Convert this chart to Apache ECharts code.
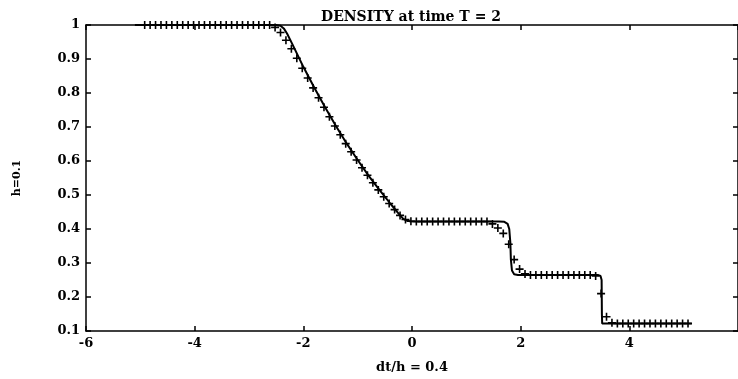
<!DOCTYPE html>
<html>
<head>
<meta charset="utf-8">
<script src="https://cdn.jsdelivr.net/npm/echarts@6/dist/echarts.min.js"></script>
<style>
html,body{margin:0;padding:0;background:#fff;}
#chart{width:738px;height:379px;}
</style>
</head>
<body>
<div id="chart"></div>
<script>
// Numerical solution (+ markers), h = 0.1
var numX = [-4.92,-4.82,-4.72,-4.62,-4.52,-4.42,-4.32,-4.22,-4.12,-4.02,
  -3.92,-3.82,-3.72,-3.62,-3.52,-3.42,-3.32,-3.22,-3.12,-3.02,
  -2.92,-2.82,-2.72,-2.62,-2.52,-2.42,-2.32,-2.22,-2.12,-2.02,
  -1.92,-1.82,-1.72,-1.62,-1.52,-1.42,-1.32,-1.22,-1.12,-1.02,
  -0.92,-0.82,-0.72,-0.62,-0.52,-0.42,-0.32,-0.22,-0.12,-0.02,
  0.08,0.18,0.28,0.38,0.48,0.58,0.68,0.78,0.88,0.98,
  1.08,1.18,1.28,1.38,1.48,1.58,1.68,1.78,1.88,1.98,
  2.08,2.18,2.28,2.38,2.48,2.58,2.68,2.78,2.88,2.98,
  3.08,3.18,3.28,3.38,3.48,3.58,3.68,3.78,3.88,3.98,
  4.08,4.18,4.28,4.38,4.48,4.58,4.68,4.78,4.88,4.98,
  5.08];
var numY = [1,1,1,1,1,1,1,1,1,1,
  1,1,1,1,1,1,1,1,1,1,
  1,1,1,1,0.993,0.978,0.955,0.93,0.902,0.873,
  0.844,0.815,0.786,0.758,0.730,0.703,0.677,0.651,0.627,0.603,
  0.580,0.558,0.536,0.515,0.495,0.475,0.457,0.440,0.428,0.423,
  0.422,0.422,0.422,0.422,0.422,0.422,0.422,0.422,0.422,0.422,
  0.422,0.422,0.422,0.422,0.415,0.403,0.387,0.355,0.31,0.282,
  0.268,0.265,0.265,0.265,0.265,0.265,0.265,0.265,0.265,0.265,
  0.265,0.265,0.265,0.262,0.21,0.142,0.124,0.122,0.122,0.122,
  0.122,0.122,0.122,0.122,0.122,0.122,0.122,0.122,0.122,0.122,
  0.122];
// Reference (exact) solution, solid line
var exactX = [-5.1,-2.5,-2.42,-2.36,-2.3,-2.2,-2.0,-1.8,-1.6,-1.4,-1.2,-1.0,-0.8,-0.6,-0.4,-0.25,-0.16,-0.1,-0.04,0.1,
  1.6,1.7,1.76,1.79,1.81,1.82,1.84,1.88,1.95,3.42,3.47,3.49,3.495,3.5,5.15];
var exactY = [1,1,0.998,0.99,0.975,0.943,0.877,0.816,0.758,0.703,0.651,0.603,0.557,0.515,0.475,0.446,0.43,0.425,0.423,0.422,
  0.422,0.421,0.415,0.40,0.36,0.31,0.278,0.267,0.265,0.265,0.262,0.25,0.15,0.122,0.122];
var titleText = 'DENSITY at time T = 2';
var xName = 'dt/h = 0.4';
var yName = 'h=0.1';
var xTicks = {min: -6, max: 6, interval: 2};
var yTicks = {min: 0.1, max: 1, interval: 0.1};

function pairs(xs, ys){ var out=[]; for(var i=0;i<xs.length;i++){ out.push([xs[i], ys[i]]); } return out; }

var FONT = 'DejaVu Serif';
var lbl = {color:'#000', fontFamily:FONT, fontWeight:'bold', fontSize:13};
function axLine(){ return {show:true, onZero:false, lineStyle:{color:'#000', width:1.5}}; }
function tick(){ return {show:true, inside:true, length:5, lineStyle:{color:'#000', width:1.5}}; }

var chart = echarts.init(document.getElementById('chart'), null, {renderer:'canvas'});
chart.setOption({
  animation:false,
  backgroundColor:'#fff',
  title:{text:titleText, left:316, top:5, textStyle:{color:'#000', fontFamily:FONT, fontWeight:'bold', fontSize:14}},
  grid:{left:86, right:-6, top:25, bottom:48, containLabel:false},
  xAxis:[{
    type:'value', min:xTicks.min, max:xTicks.max, interval:xTicks.interval, position:'bottom',
    name:xName, nameLocation:'middle', nameGap:30,
    nameTextStyle:{color:'#000', fontFamily:FONT, fontWeight:'bold', fontSize:13},
    axisLine:axLine(), axisTick:tick(),
    axisLabel:Object.assign({margin:6, showMaxLabel:false}, lbl),
    splitLine:{show:false}
  },{
    type:'value', min:xTicks.min, max:xTicks.max, interval:xTicks.interval, position:'top',
    axisLine:axLine(), axisTick:tick(), axisLabel:{show:false}, splitLine:{show:false}
  }],
  yAxis:[{
    type:'value', min:yTicks.min, max:yTicks.max, interval:yTicks.interval, position:'left',
    name:yName, nameLocation:'middle', nameGap:63,
    nameTextStyle:{color:'#000', fontFamily:FONT, fontWeight:'bold', fontSize:11},
    axisLine:axLine(), axisTick:tick(),
    axisLabel:Object.assign({margin:6}, lbl),
    splitLine:{show:false}
  },{
    type:'value', min:yTicks.min, max:yTicks.max, interval:yTicks.interval, position:'right',
    axisLine:axLine(), axisTick:tick(), axisLabel:{show:false}, splitLine:{show:false}
  }],
  series:[{
    type:'line', xAxisIndex:0, yAxisIndex:0,
    data:pairs(exactX, exactY), showSymbol:false, smooth:false,
    lineStyle:{color:'#000', width:2}
  },{
    type:'scatter', xAxisIndex:0, yAxisIndex:0,
    data:pairs(numX, numY),
    symbol:'path://M-1,-5 L1,-5 L1,-1 L5,-1 L5,1 L1,1 L1,5 L-1,5 L-1,1 L-5,1 L-5,-1 L-1,-1 Z',
    symbolSize:8,
    itemStyle:{color:'#000', opacity:1}
  }]
});
</script>
</body>
</html>
